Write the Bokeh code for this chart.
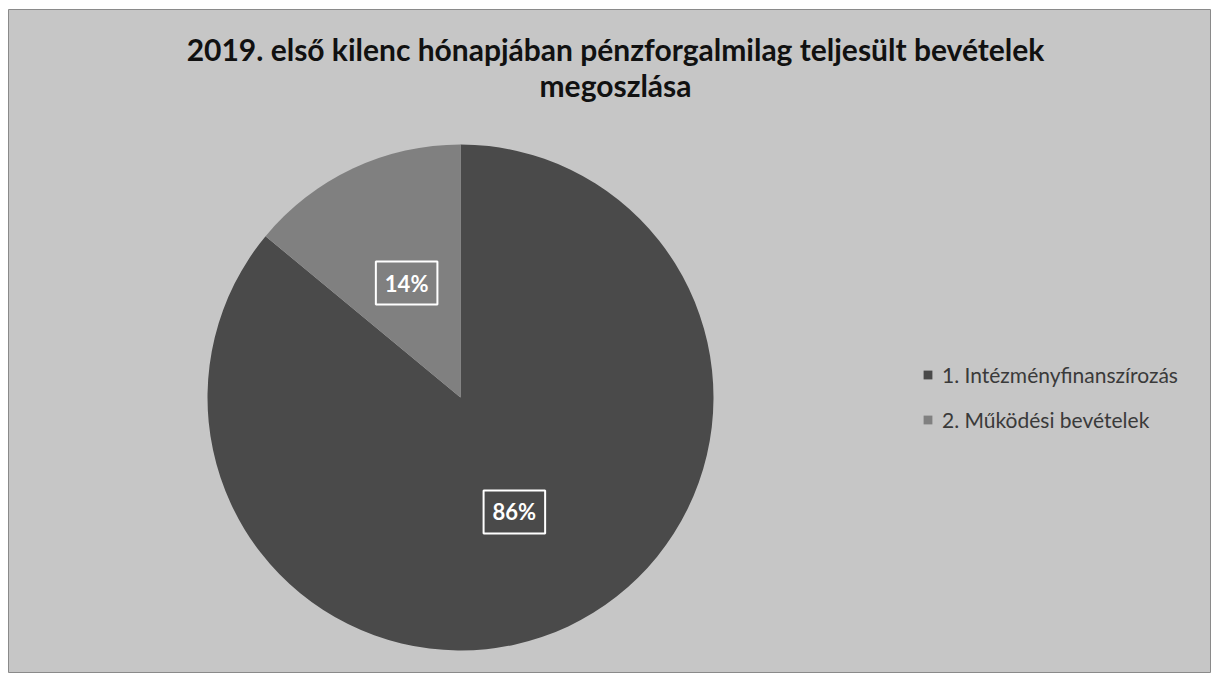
import numpy as np
from bokeh.plotting import figure
from bokeh.models import Label, Legend, LegendItem, ColumnDataSource, Range1d
from bokeh.embed import file_html
from bokeh.resources import INLINE

title_lines = ["2019. első kilenc hónapjában pénzforgalmilag teljesült bevételek",
               "megoszlása"]
categories = ["1. Intézményfinanszírozás", "2. Működési bevételek"]
shares = [86, 14]
colors = ["#4a4a4a", "#808080"]

FW, FH = 1202, 663
p = figure(width=FW + 10, height=FH + 11, x_range=Range1d(0, FW), y_range=Range1d(0, FH),
           output_backend="svg", toolbar_location=None,
           min_border_left=8, min_border_top=9, min_border_right=2, min_border_bottom=2)
p.axis.visible = False
p.grid.visible = False
p.outline_line_color = "#8a8a8a"
p.background_fill_color = "#c6c6c6"
p.border_fill_color = "white"

# pie geometry (data units == pixels)
cx, cy, r = 452, 275, 253
frac = np.array(shares, dtype=float) / sum(shares)
cum = np.cumsum(frac)
start = np.pi / 2 - 2 * np.pi * (cum - frac)
end = np.pi / 2 - 2 * np.pi * cum

src = ColumnDataSource(dict(x=[cx] * len(shares), y=[cy] * len(shares),
                            start=start, end=end, color=colors,
                            cat=categories))
wr = p.wedge(x="x", y="y", radius=r, start_angle="start", end_angle="end",
             direction="clock", fill_color="color", line_color=None, source=src)

# data labels
mid = (start + end) / 2
for i, s in enumerate(shares):
    lx = cx + 0.5 * r * np.cos(mid[i])
    ly = cy + 0.5 * r * np.sin(mid[i])
    p.add_layout(Label(x=lx, y=ly, text=f"{s}%", text_align="center",
                       text_baseline="middle", text_color="white",
                       text_font="Lato", text_font_style="bold",
                       text_font_size="22px",
                       background_fill_color=colors[i],
                       border_line_color="white", border_line_width=2,
                       padding=(9, 8)))

# title
for t, yb in zip(title_lines, [624, 588]):
    p.add_layout(Label(x=607, y=yb, text=t,
                       text_align="center", text_baseline="alphabetic",
                       text_color="#111111", text_font="Lato",
                       text_font_style="bold", text_font_size="30px"))

legend = Legend(items=[LegendItem(label=c, renderers=[wr], index=i)
                       for i, c in enumerate(categories)],
                location=(914, 240), orientation="vertical",
                glyph_width=11, glyph_height=11, label_height=20,
                label_standoff=9, spacing=20, padding=0, margin=0,
                label_text_font="Lato", label_text_font_size="21px",
                label_text_color="#3a3a3a",
                background_fill_alpha=0, border_line_alpha=0)
p.add_layout(legend)

open("out.html", "w").write(file_html(p, INLINE))
